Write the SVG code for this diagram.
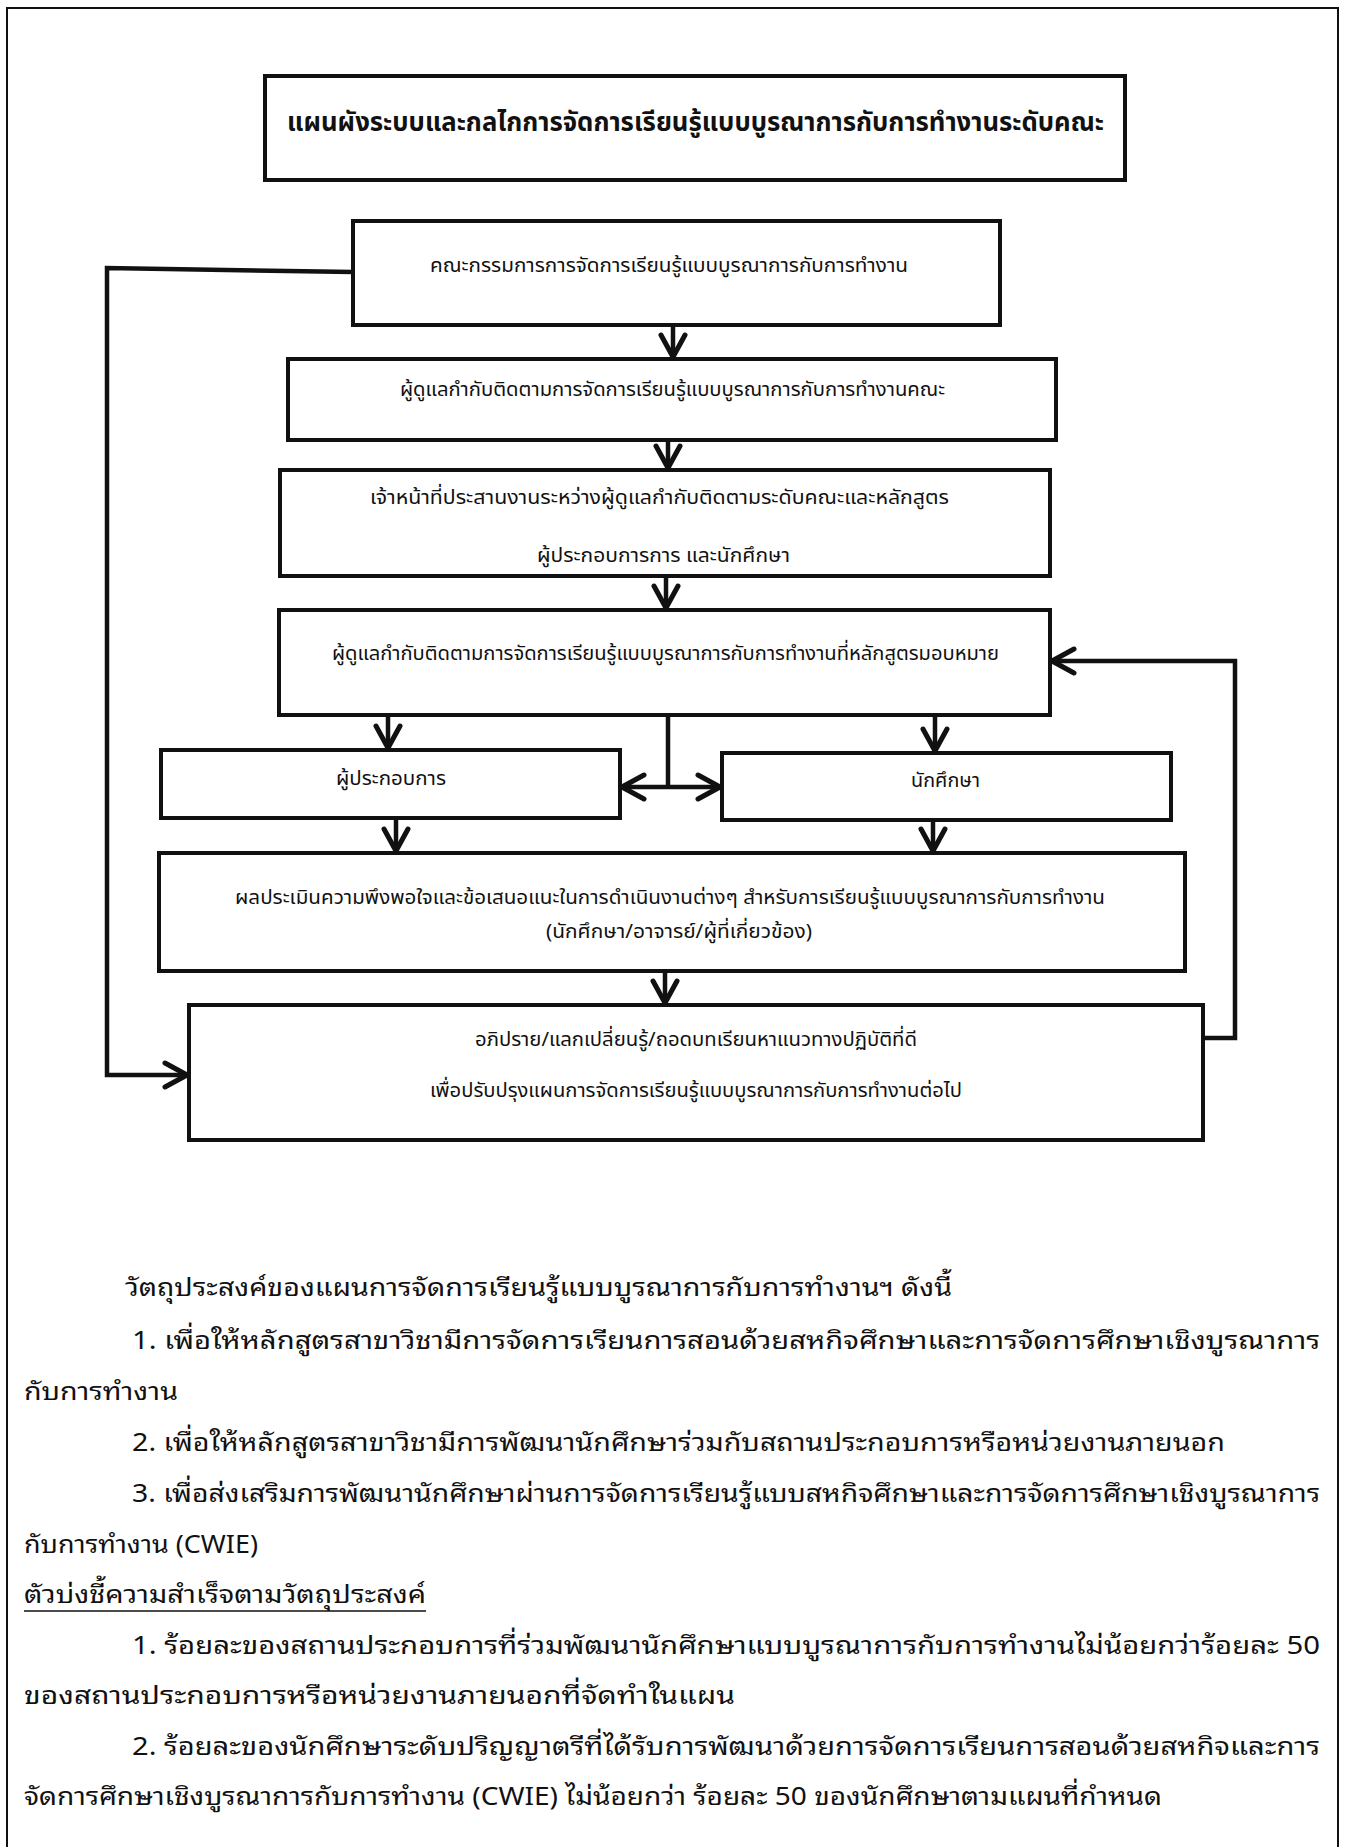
<svg xmlns="http://www.w3.org/2000/svg" width="1348" height="1847" viewBox="0 0 1348 1847">
<style>
.box{fill:#fff;stroke:#111;stroke-width:4}
.lbl{font-family:"Noto Sans Thai","Noto Sans",sans-serif;font-size:20px;fill:#111}
.title{font-family:"Noto Sans Thai","Noto Sans",sans-serif;font-size:27px;font-weight:700;fill:#111}
.body{font-family:"Noto Sans Thai Looped","Noto Sans Thai","Noto Sans",sans-serif;font-size:25px;fill:#111}
.con{fill:none;stroke:#111;stroke-width:4.5;stroke-linejoin:miter}
</style>
<defs>
<marker id="ah" viewBox="0 0 30 30" markerUnits="userSpaceOnUse" markerWidth="30" markerHeight="30" refX="26" refY="15" orient="auto-start-reverse">
<path d="M4,3 L26,15 L4,27" fill="none" stroke="#111" stroke-width="5" stroke-linecap="round" stroke-linejoin="miter"/>
</marker>
</defs>
<rect x="0" y="0" width="1348" height="1847" fill="#fff"/>
<path d="M7,1847 V8 H1338 V1847" fill="none" stroke="#111" stroke-width="2"/>

<g id="title">
<rect class="box" x="265" y="76" width="860" height="104"/>
<text class="title" x="287" y="131" textLength="817" lengthAdjust="spacingAndGlyphs">แผนผังระบบและกลไกการจัดการเรียนรู้แบบบูรณาการกับการทำงานระดับคณะ</text>
</g>
<g id="n1">
<rect class="box" x="353" y="221" width="647" height="104"/>
<text class="lbl" x="430" y="272" textLength="478" lengthAdjust="spacingAndGlyphs">คณะกรรมการการจัดการเรียนรู้แบบบูรณาการกับการทำงาน</text>
</g>
<g id="n2">
<rect class="box" x="288" y="359" width="768" height="81"/>
<text class="lbl" x="400" y="396" textLength="545" lengthAdjust="spacingAndGlyphs">ผู้ดูแลกำกับติดตามการจัดการเรียนรู้แบบบูรณาการกับการทำงานคณะ</text>
</g>
<g id="n3">
<rect class="box" x="280" y="470" width="770" height="106"/>
<text class="lbl" x="370" y="504" textLength="579" lengthAdjust="spacingAndGlyphs">เจ้าหน้าที่ประสานงานระหว่างผู้ดูแลกำกับติดตามระดับคณะและหลักสูตร</text>
<text class="lbl" x="537" y="562" textLength="253" lengthAdjust="spacingAndGlyphs">ผู้ประกอบการการ และนักศึกษา</text>
</g>
<g id="n4">
<rect class="box" x="279" y="610" width="771" height="105"/>
<text class="lbl" x="332" y="660" textLength="667" lengthAdjust="spacingAndGlyphs">ผู้ดูแลกำกับติดตามการจัดการเรียนรู้แบบบูรณาการกับการทำงานที่หลักสูตรมอบหมาย</text>
</g>
<g id="n5">
<rect class="box" x="161" y="750" width="459" height="68"/>
<text class="lbl" x="336" y="785" textLength="110" lengthAdjust="spacingAndGlyphs">ผู้ประกอบการ</text>
</g>
<g id="n6">
<rect class="box" x="722" y="753" width="449" height="67"/>
<text class="lbl" x="911" y="787" textLength="69" lengthAdjust="spacingAndGlyphs">นักศึกษา</text>
</g>
<g id="n7">
<rect class="box" x="159" y="853" width="1026" height="118"/>
<text class="lbl" x="235" y="904" textLength="870" lengthAdjust="spacingAndGlyphs">ผลประเมินความพึงพอใจและข้อเสนอแนะในการดำเนินงานต่างๆ สำหรับการเรียนรู้แบบบูรณาการกับการทำงาน</text>
<text class="lbl" x="546" y="938" textLength="266" lengthAdjust="spacingAndGlyphs">(นักศึกษา/อาจารย์/ผู้ที่เกี่ยวข้อง)</text>
</g>
<g id="n8">
<rect class="box" x="189" y="1005" width="1014" height="135"/>
<text class="lbl" x="475" y="1046" textLength="442" lengthAdjust="spacingAndGlyphs">อภิปราย/แลกเปลี่ยนรู้/ถอดบทเรียนหาแนวทางปฏิบัติที่ดี</text>
<text class="lbl" x="430" y="1097" textLength="532" lengthAdjust="spacingAndGlyphs">เพื่อปรับปรุงแผนการจัดการเรียนรู้แบบบูรณาการกับการทำงานต่อไป</text>
</g>

<g id="connectors">
<path class="con" d="M673,325 V357" marker-end="url(#ah)"/>
<path class="con" d="M668,440 V468" marker-end="url(#ah)"/>
<path class="con" d="M666,576 V608" marker-end="url(#ah)"/>
<path class="con" d="M388,715 V748" marker-end="url(#ah)"/>
<path class="con" d="M935,715 V751" marker-end="url(#ah)"/>
<path class="con" d="M668,715 V787"/>
<path class="con" d="M622,787 H720" marker-start="url(#ah)" marker-end="url(#ah)"/>
<path class="con" d="M396,818 V851" marker-end="url(#ah)"/>
<path class="con" d="M933,820 V851" marker-end="url(#ah)"/>
<path class="con" d="M665,971 V1003" marker-end="url(#ah)"/>
<path class="con" d="M353,272 L107,268 V1075 H187" marker-end="url(#ah)"/>
<path class="con" d="M1203,1038 H1235 V661 H1052" marker-end="url(#ah)"/>
</g>

<g id="text-body">
<text class="body" x="125" y="1296" textLength="827" lengthAdjust="spacingAndGlyphs">วัตถุประสงค์ของแผนการจัดการเรียนรู้แบบบูรณาการกับการทำงานฯ ดังนี้</text>
<text class="body" x="132" y="1349" textLength="1188" lengthAdjust="spacingAndGlyphs">1. เพื่อให้หลักสูตรสาขาวิชามีการจัดการเรียนการสอนด้วยสหกิจศึกษาและการจัดการศึกษาเชิงบูรณาการ</text>
<text class="body" x="24" y="1400" textLength="154" lengthAdjust="spacingAndGlyphs">กับการทำงาน</text>
<text class="body" x="132" y="1451" textLength="1093" lengthAdjust="spacingAndGlyphs">2. เพื่อให้หลักสูตรสาขาวิชามีการพัฒนานักศึกษาร่วมกับสถานประกอบการหรือหน่วยงานภายนอก</text>
<text class="body" x="132" y="1502" textLength="1188" lengthAdjust="spacingAndGlyphs">3. เพื่อส่งเสริมการพัฒนานักศึกษาผ่านการจัดการเรียนรู้แบบสหกิจศึกษาและการจัดการศึกษาเชิงบูรณาการ</text>
<text class="body" x="24" y="1553" textLength="234" lengthAdjust="spacingAndGlyphs">กับการทำงาน (CWIE)</text>
<text class="body" x="24" y="1603" textLength="402" lengthAdjust="spacingAndGlyphs">ตัวบ่งชี้ความสำเร็จตามวัตถุประสงค์</text>
<line x1="24" y1="1611" x2="426" y2="1611" stroke="#111" stroke-width="1.5"/>
<text class="body" x="132" y="1654" textLength="1188" lengthAdjust="spacingAndGlyphs">1. ร้อยละของสถานประกอบการที่ร่วมพัฒนานักศึกษาแบบบูรณาการกับการทำงานไม่น้อยกว่าร้อยละ 50</text>
<text class="body" x="24" y="1704" textLength="711" lengthAdjust="spacingAndGlyphs">ของสถานประกอบการหรือหน่วยงานภายนอกที่จัดทำในแผน</text>
<text class="body" x="132" y="1755" textLength="1188" lengthAdjust="spacingAndGlyphs">2. ร้อยละของนักศึกษาระดับปริญญาตรีที่ได้รับการพัฒนาด้วยการจัดการเรียนการสอนด้วยสหกิจและการ</text>
<text class="body" x="24" y="1805" textLength="1138" lengthAdjust="spacingAndGlyphs">จัดการศึกษาเชิงบูรณาการกับการทำงาน (CWIE) ไม่น้อยกว่า ร้อยละ 50 ของนักศึกษาตามแผนที่กำหนด</text>
</g>
</svg>
